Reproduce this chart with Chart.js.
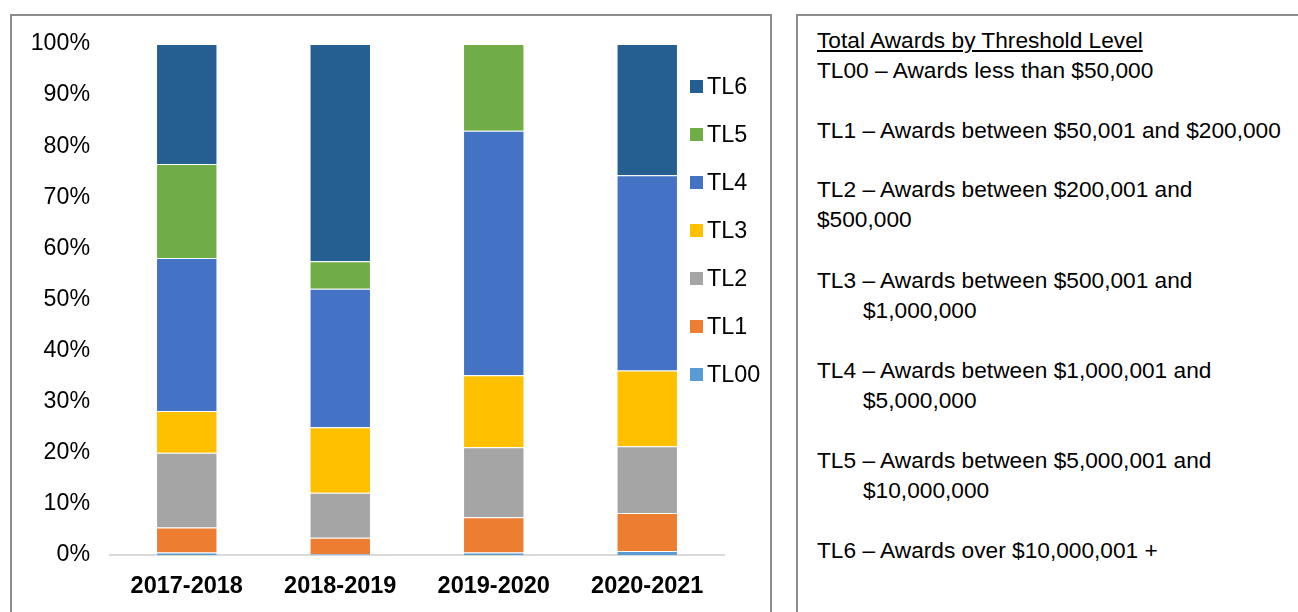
<!DOCTYPE html>
<html>
<head>
<meta charset="utf-8">
<script src="https://cdn.jsdelivr.net/npm/chart.js@4/dist/chart.umd.min.js"></script>
<style>
  body { margin: 0; width: 1298px; height: 612px; overflow: hidden; background: #fff;
         font-family: "Liberation Sans", Arial, sans-serif; color: #000; }
  #chartBox { position: absolute; left: 10px; top: 14px; width: 762px; height: 620px;
              border: 2px solid #8c8c8c; box-sizing: border-box; }
  #chartBox canvas { position: absolute; left: 0; top: 0; }
  #notes { position: absolute; left: 796px; top: 14px; width: 520px; height: 620px;
           border: 2px solid #8c8c8c; box-sizing: border-box; }
  #notes .ln { position: absolute; left: 19px; font-size: 22.7px; line-height: 30px; white-space: nowrap; }
  #notes .ind { left: 65px; }
  #notes .title { text-decoration: underline; }
</style>
</head>
<body>
<div id="chartBox"><canvas id="awardsChart" width="758" height="596"></canvas></div>
<div id="notes">
  <div class="ln title" style="top:9px">Total Awards by Threshold Level</div>
  <div class="ln" style="top:39px">TL00 – Awards less than $50,000</div>
  <div class="ln" style="top:99px">TL1 – Awards between $50,001 and $200,000</div>
  <div class="ln" style="top:158px">TL2 – Awards between $200,001 and</div>
  <div class="ln" style="top:188px">$500,000</div>
  <div class="ln" style="top:249px">TL3 – Awards between $500,001 and</div>
  <div class="ln ind" style="top:279px">$1,000,000</div>
  <div class="ln" style="top:339px">TL4 – Awards between $1,000,001 and</div>
  <div class="ln ind" style="top:369px">$5,000,000</div>
  <div class="ln" style="top:429px">TL5 – Awards between $5,000,001 and</div>
  <div class="ln ind" style="top:459px">$10,000,000</div>
  <div class="ln" style="top:519px">TL6 – Awards over $10,000,001 +</div>
</div>
<script>
// fiscal years on the x axis
const years = ["2017-2018", "2018-2019", "2019-2020", "2020-2021"];

// share of awards (%) per threshold level
const tl00 = [0.5, 0.2, 0.5, 0.8];
const tl1 = [4.9, 3.2, 6.9, 7.4];
const tl2 = [14.6, 8.8, 13.7, 13.1];
const tl3 = [8.2, 12.8, 14.1, 14.8];
const tl4 = [29.9, 27.1, 47.8, 38.2];
const tl5 = [18.4, 5.4, 17.0, 0];
const tl6 = [23.5, 42.5, 0, 25.7];

const levelNames = ["TL00", "TL1", "TL2", "TL3", "TL4", "TL5", "TL6"];
const levelColors = ["#5b9bd5", "#ed7d31", "#a5a5a5", "#ffc000", "#4472c4", "#70ad47", "#255e91"];
const levelValues = [tl00, tl1, tl2, tl3, tl4, tl5, tl6];

const yTicks = [0, 10, 20, 30, 40, 50, 60, 70, 80, 90, 100];

const FONT = "'Liberation Sans', Arial, sans-serif";

// Excel style legend on the right, drawn over the plot edge (TL6 on top)
const sideLegend = {
  id: "sideLegend",
  afterDraw(chart) {
    const ctx = chart.ctx;
    const items = chart.data.datasets.slice().reverse();
    ctx.save();
    ctx.font = "23.4px " + FONT;
    ctx.textBaseline = "middle";
    items.forEach((ds, i) => {
      const y = 70.5 + i * 48;
      ctx.fillStyle = ds.backgroundColor;
      ctx.fillRect(678, y - 6.5, 13, 13);
      ctx.fillStyle = "#000";
      ctx.fillText(ds.label, 695, y + 1);
    });
    ctx.restore();
  }
};

const ctx = document.getElementById("awardsChart").getContext("2d");
new Chart(ctx, {
  type: "bar",
  data: {
    labels: years,
    datasets: levelNames.map((name, i) => ({
      label: name,
      data: levelValues[i],
      backgroundColor: levelColors[i],
      borderColor: "rgba(255,255,255,0.35)",
      borderWidth: 1,
      barPercentage: 0.4,
      categoryPercentage: 1.0
    }))
  },
  options: {
    responsive: false,
    animation: false,
    devicePixelRatio: 1,
    layout: { padding: { left: 0, top: 28, right: 46, bottom: 0 } },
    plugins: {
      legend: { display: false },
      tooltip: { enabled: false }
    },
    scales: {
      x: {
        stacked: true,
        grid: { display: false, drawTicks: false },
        border: { display: true, color: "#d9d9d9", width: 2 },
        ticks: { color: "#000", padding: 17, font: { family: FONT, size: 23.5, weight: "bold" } },
        afterFit(scale) { scale.height = 57; }
      },
      y: {
        stacked: true,
        min: 0,
        max: 100,
        // hidden tick marks only keep the labels 20px off the plot
        grid: { display: false, drawTicks: true, tickLength: 20 },
        border: { display: false },
        afterBuildTicks(scale) { scale.ticks = yTicks.map(v => ({ value: v })); },
        ticks: {
          color: "#000",
          padding: 0,
          font: { family: FONT, size: 23.2 },
          callback: v => v + "%"
        },
        afterFit(scale) { scale.width = 98; }
      }
    }
  },
  plugins: [sideLegend]
});
</script>
</body>
</html>
